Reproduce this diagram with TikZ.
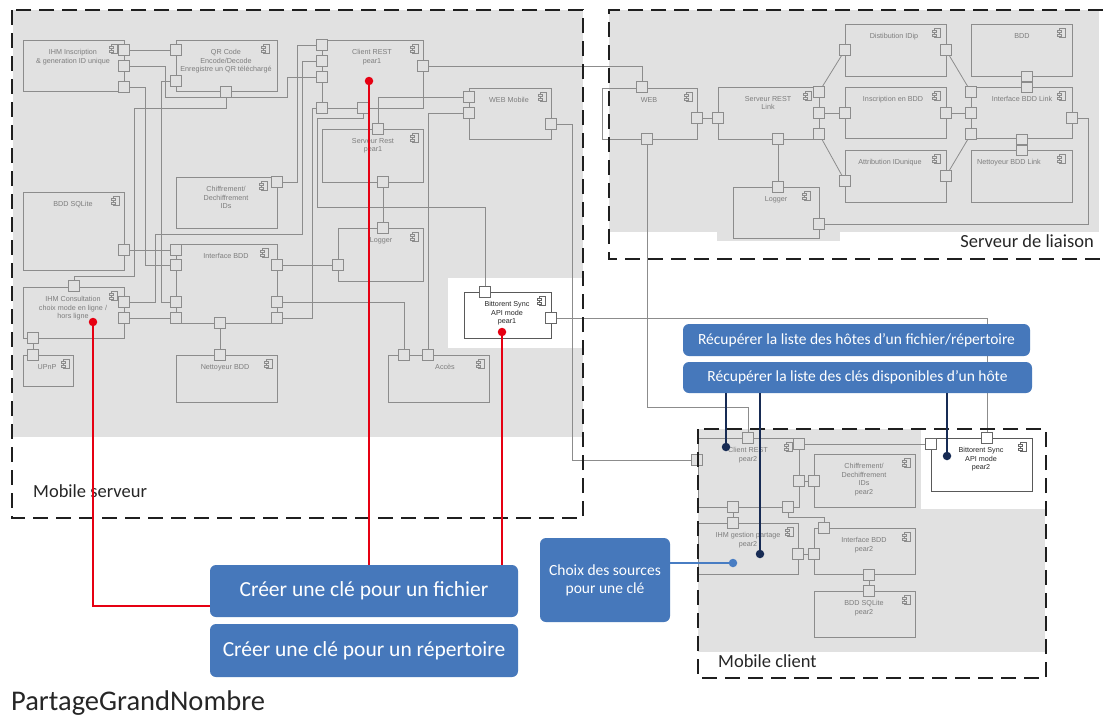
\documentclass[tikz,border=0pt]{standalone}
\usepackage{fontspec}
\setmainfont{Carlito}
\newfontfamily\arialf{Liberation Sans}
\usetikzlibrary{fit}
\pgfdeclarelayer{bg}
\pgfdeclarelayer{lines}
\pgfsetlayers{bg,lines,main}
\definecolor{bgGray}{RGB}{225,225,225}
\definecolor{lnGray}{RGB}{140,140,140}
\definecolor{txGray}{RGB}{125,125,125}
\definecolor{boxBlue}{RGB}{70,120,187}
\definecolor{navyC}{RGB}{23,43,84}
\definecolor{lblue}{RGB}{72,125,195}
\definecolor{redC}{RGB}{230,0,18}
\def\iconfill{bgGray}
\def\iconcolor{lnGray}
\tikzset{
 compbox/.style={draw=lnGray, line width=0.8pt, inner sep=0pt},
 bsbox/.style={draw=black!65, line width=0.8pt, inner sep=0pt},
 ctext/.style={font=\arialf\fontsize{7.2}{8.6}\selectfont, text=txGray, align=center, anchor=north, inner sep=0pt},
 btext/.style={font=\arialf\fontsize{7.2}{8.6}\selectfont, text=black!85, align=center, anchor=north, inner sep=0pt},
 compcur/.style={compbox},
 textcur/.style={ctext},
 port/.style={draw=lnGray, fill=bgGray, line width=0.8pt, minimum size=10.5pt, inner sep=0pt},
 wport/.style={draw=black!60, fill=white, line width=0.8pt, minimum size=10.5pt, inner sep=0pt},
 conn/.style={draw=lnGray, line width=0.8pt},
 zone/.style={draw=black!88, line width=2.6pt, dash pattern=on 15pt off 8pt},
 zonelabel/.style={font=\fontsize{18.5}{22}\selectfont, text=black!85, inner sep=0pt},
 bluebox/.style={fill=boxBlue, rounded corners=6pt, text=white, align=center, inner sep=0pt},
 redl/.style={draw=redC, line width=1.4pt},
 navyl/.style={draw=navyC, line width=1.4pt},
 bluel/.style={draw=lblue, line width=1.4pt},
 dotnode/.style={circle, inner sep=0pt, minimum size=8.5pt},
 cicon/.pic={
  \draw[draw=\iconcolor, line width=0.6pt] (-2.5,-4.5) rectangle (3,4.5);
  \draw[draw=\iconcolor, fill=\iconfill, line width=0.6pt] (-5,-3) rectangle (-0.5,-1);
  \draw[draw=\iconcolor, fill=\iconfill, line width=0.6pt] (-5,1) rectangle (-0.5,3);
 }
}
% #1 icon offset, #2 name, #3 x1, #4 y1, #5 x2, #6 y2, #7 text x, #8 text
\newcommand\comp[8][10]{%
 \node[compcur, fit={(#3,#4) (#5,#6)}] (#2) {};
 \node[textcur] (#2-t) at (#7,#4+9) {#8};
 \pic at (#5-#1,#4+9) {cicon};
}
\newcommand\port[4][port]{\node[#1] (#2) at (#3,#4) {};}
\begin{document}
\begin{tikzpicture}[x=1pt,y=-1pt]
\useasboundingbox (0,0) rectangle (1103,716);
\begin{pgfonlayer}{bg}
 \fill[white] (0,0) rectangle (1103,716);
 \fill[bgGray] (13,10) rectangle (583,437);
 \fill[white] (448,278) rectangle (583,348);
 \fill[bgGray] (609,10) rectangle (1099,232);
 \fill[bgGray] (717,230) rectangle (840,241);
 \fill[bgGray] (698,429) rectangle (1045,652);
 \fill[white] (921,429) rectangle (1045,509);
\end{pgfonlayer}

% ---------- Mobile serveur ----------
\comp{ihmI}{23}{40}{124}{91}{73}{IHM Inscription\\\& generation ID unique}
\comp[11]{qr}{176}{40}{277}{91}{226}{QR Code\\Encode/Decode\\Enregistre un QR téléchargé}
\comp[8]{clientR}{322}{40}{423}{108}{372}{Client REST\\pear1}
\comp[8]{webM}{469}{88}{551}{139}{509}{WEB Mobile}
\comp[8]{servR}{322}{129}{423}{182}{373}{Serveur Rest\\pear1}
\comp[13]{chif}{176}{177}{277}{228}{226}{Chiffrement/\\Dechiffrement\\IDs}
\comp[8]{bddS}{23}{192}{124}{270}{73}{BDD SQLite}
\comp[8]{logger}{338}{228}{423}{281}{381}{Logger}
\comp[12]{ibdd}{176}{244}{277}{323}{226}{Interface BDD}
\comp{ihmC}{23}{287}{124}{338}{73}{IHM Consultation\\choix mode en ligne /\\hors ligne}
\comp[7]{upnp}{23}{355}{73}{386}{47}{UPnP}
\comp[8]{nett}{176}{355}{277}{402}{225}{Nettoyeur BDD}
\comp[8]{acces}{388}{355}{489}{402}{445}{Accès}

\port{pI1}{124}{50}\port{pI2}{124}{66}\port{pI3}{124}{87}
\port{pQ1}{176}{50}\port{pQ2}{176}{81}\port{pQ3}{226}{92}
\port{pC1}{322}{45}\port{pC2}{322}{61}\port{pC3}{322}{77}\port{pC4}{322}{108}\port{pC5}{363}{108}\port{pC6}{423}{66}
\port{pW1}{469}{97}\port{pW2}{469}{113}\port{pW3}{551}{124}
\port{pS1}{378}{129}\port{pS2}{383}{182}
\port{pX}{277}{182}
\port{pB}{124}{250}
\port{pL1}{383}{228}\port{pL2}{338}{265}
\port{pIB1}{176}{250}\port{pIB2}{176}{265}\port{pIB3}{176}{302}\port{pIB4}{176}{318}
\port{pIB5}{277}{265}\port{pIB6}{277}{302}\port{pIB7}{277}{318}\port{pIB8}{220}{323}
\port{pH0}{74}{286}\port{pH1}{124}{302}\port{pH2}{124}{318}\port{pH3}{33}{338}
\port{pU}{33}{355}
\port{pN}{220}{355}
\port{pA1}{404}{355}\port{pA2}{428}{355}

% ---------- Serveur de liaison ----------
\comp[8]{web}{602}{88}{697}{139}{649}{WEB}
\comp[11]{srl}{718}{87}{819}{139}{768}{Serveur REST\\Link}
\comp[12]{logL}{733}{187}{819}{238}{776}{Logger}
\comp[9]{dist}{845}{24}{946}{76}{894}{Distibution IDip}
\comp[9]{insc}{845}{87}{946}{138}{893}{Inscription en BDD}
\comp[9]{attr}{845}{150}{946}{202}{890}{Attribution IDunique}
\comp{bdd}{971}{24}{1072}{76}{1022}{BDD}
\comp{ibl}{971}{87}{1072}{138}{1022}{Interface BDD Link}
\comp{netL}{971}{150}{1072}{202}{1009}{Nettoyeur BDD Link}

\port{pWb1}{642}{87}\port{pWb2}{647}{139}\port{pWb3}{697}{118}
\port{pR0}{718}{118}\port{pR1}{819}{92}\port{pR2}{819}{113}\port{pR3}{819}{134}\port{pR4}{778}{139}
\port{pLL1}{778}{187}\port{pLL2}{819}{224}
\port{pD1}{845}{50}\port{pD2}{946}{50}
\port{pIn1}{845}{113}\port{pIn2}{946}{113}
\port{pAt1}{845}{181}\port{pAt2}{946}{176}
\port{pBd}{1027}{76.5}\port{pIL0}{1027}{87.5}
\port{pIL1}{971}{92}\port{pIL2}{971}{113}\port{pIL3}{971}{134}\port{pIL4}{1072}{118}\port{pIL5}{1022}{139.5}
\port{pNL}{1022}{150.5}

% ---------- Mobile client ----------
\comp{cr2}{698}{438}{799}{507}{748}{Client REST\\pear2}
\comp[8]{ch2}{814}{454}{915}{507}{864}{Chiffrement/\\Dechiffrement\\IDs\\pear2}
\comp[8]{ihmG}{698}{523}{798}{574}{748}{IHM gestion partage\\pear2}
\comp[8]{ib2}{814}{528}{915}{574}{864}{Interface BDD\\pear2}
\comp[8]{bdd2}{814}{591}{915}{637}{864}{BDD SQLite\\pear2}

\port{pCR0}{697}{460}\port{pCR1}{748}{438}\port{pCR2}{799}{444}\port{pCR3}{799}{481}\port{pCR4}{788}{507}\port{pCR5}{733}{507}
\port{pCh}{814}{481}
\port{pG1}{733}{523}\port{pG2}{798}{554}
\port{pIb1}{824}{528}\port{pIb2}{814}{554}\port{pIb3}{869}{575}
\port{pBq}{869}{591}

% ---------- Bittorent Sync boxes ----------
\tikzset{compcur/.style={bsbox}, textcur/.style={btext}}
\def\iconfill{white}\def\iconcolor{black!60}
\comp[9]{bs1}{464}{292}{551}{338}{507}{Bittorent Sync\\API mode\\pear1}
\comp[9]{bs2}{931}{438}{1032}{491}{981}{Bittorent Sync\\API mode\\pear2}
\port[wport]{pBS1}{485}{292}\port[wport]{pBS2}{551}{318}
\port[wport]{pBS2a}{931}{444}\port[wport]{pBS2b}{987}{438}

% ---------- connectors ----------
\begin{pgfonlayer}{lines}
\draw[conn] (pI1) -- (pQ1);
\draw[conn] (pI2) -- (165,66) -- (165,97) -- (287,97) -- (287,77) -- (pC3);
\draw[conn] (pI3) -- (145,87) -- (145,265) -- (pIB2);
\draw[conn] (pQ3) -- (226,108) -- (134,108) -- (134,276) -- (74,276) -- (pH0);
\draw[conn] (pQ2) -- (161,81) -- (161,302) -- (pIB3);
\draw[conn] (pX) -- (297,182) -- (297,45) -- (pC1);
\draw[conn] (pC2) -- (302,61) -- (302,234) -- (155,234) -- (155,302) -- (pH1);
\draw[conn] (pIB7) -- (312,318) -- (312,108) -- (pC4);
\draw[conn] (pC4) -- (pC5);
\draw[conn] (pC5) -- (363,118) -- (317,118) -- (317,207) -- (485,207) -- (pBS1);
\draw[conn] (pC6) -- (642,66) -- (pWb1);
\draw[conn] (pS1) -- (378,97) -- (pW1);
\draw[conn] (pW2) -- (428,113) -- (pA2);
\draw[conn] (pW3) -- (572,124) -- (572,460) -- (pCR0);
\draw[conn] (pS2) -- (pL1);
\draw[conn] (pB) -- (pIB1);
\draw[conn] (pIB5) -- (pL2);
\draw[conn] (pIB6) -- (404,302) -- (pA1);
\draw[conn] (pH2) -- (pIB4);
\draw[conn] (pH3) -- (pU);
\draw[conn] (pIB8) -- (pN);
\draw[conn] (pBS2) -- (987,318) -- (pBS2b);
\draw[conn] (pWb3) -- (pR0);
\draw[conn] (pR1) -- (pD1);
\draw[conn] (pR2) -- (pIn1);
\draw[conn] (pR3) -- (pAt1);
\draw[conn] (pD2) -- (pIL1);
\draw[conn] (pIn2) -- (pIL2);
\draw[conn] (pAt2) -- (pIL3);
\draw[conn] (pR4) -- (pLL1);
\draw[conn] (pIL4) -- (1088,118) -- (1088,224) -- (pLL2);
\draw[conn] (pWb2) -- (647,407) -- (748,407) -- (pCR1);
\draw[conn] (pCR2) -- (pBS2a);
\draw[conn] (pCR3) -- (pCh);
\draw[conn] (pCR5) -- (pG1);
\draw[conn] (pCR4) -- (788,517) -- (824,517) -- (pIb1);
\draw[conn] (pG2) -- (pIb2);
\draw[conn] (pIb3) -- (pBq);
\end{pgfonlayer}

% ---------- zones ----------
\draw[zone] (12,10) rectangle (583,518);
\draw[zone] (1103,10) -- (609,10) -- (609,259) -- (1103,259);
\draw[zone] (698,429) rectangle (1046,678);
\node[zonelabel, anchor=west] (lblMS) at (33,491) {Mobile serveur};
\node[zonelabel, anchor=east] (lblSL) at (1094,241) {Serveur de liaison};
\node[zonelabel, anchor=west] (lblMC) at (718,661) {Mobile client};
\node[font=\fontsize{28.5}{31}\selectfont, text=black!85, inner sep=0pt, anchor=base west] (title) at (11,710) {PartageGrandNombre};

% ---------- blue boxes ----------
\node[bluebox, minimum width=347pt, minimum height=32pt, font=\fontsize{15.5}{18}\selectfont] (boxH) at (856.5,340) {Récupérer la liste des hôtes d’un fichier/répertoire};
\node[bluebox, minimum width=349pt, minimum height=31pt, font=\fontsize{15.5}{18}\selectfont] (boxK) at (857.5,377.5) {Récupérer la liste des clés disponibles d’un hôte};
\node[bluebox, minimum width=308pt, minimum height=52pt, font=\fontsize{21.5}{24}\selectfont] (boxF) at (364,591) {Créer une clé pour un fichier};
\node[bluebox, minimum width=308pt, minimum height=53pt, font=\fontsize{21.5}{24}\selectfont] (boxR) at (364,650.5) {Créer une clé pour un répertoire};
\node[bluebox, minimum width=130pt, minimum height=84pt, font=\fontsize{15.5}{18}\selectfont] (boxC) at (605,580) {Choix des sources\\pour une clé};

% ---------- annotation lines and dots ----------
\node[dotnode, fill=redC] (dotR1) at (369,81) {};
\node[dotnode, fill=redC] (dotR2) at (502,332) {};
\node[dotnode, fill=redC] (dotR3) at (93,322) {};
\coordinate (redturn) at (93,606);
\draw[redl] (dotR1) -- (dotR1 |- boxF.north);
\draw[redl] (dotR2) -- (dotR2 |- boxF.north);
\draw[redl] (dotR3) |- (boxF.west |- redturn);
\node[dotnode, fill=navyC] (dotN1) at (726,447) {};
\node[dotnode, fill=navyC] (dotN2) at (760,554) {};
\node[dotnode, fill=navyC] (dotN3) at (947,456) {};
\draw[navyl] (dotN1 |- boxK.south) -- (dotN1);
\draw[navyl] (dotN2 |- boxK.south) -- (dotN2);
\draw[navyl] (dotN3 |- boxK.south) -- (dotN3);
\node[dotnode, fill=lblue] (dotB) at (733,563) {};
\draw[bluel] (boxC.east |- dotB) -- (dotB);
\end{tikzpicture}
\end{document}
